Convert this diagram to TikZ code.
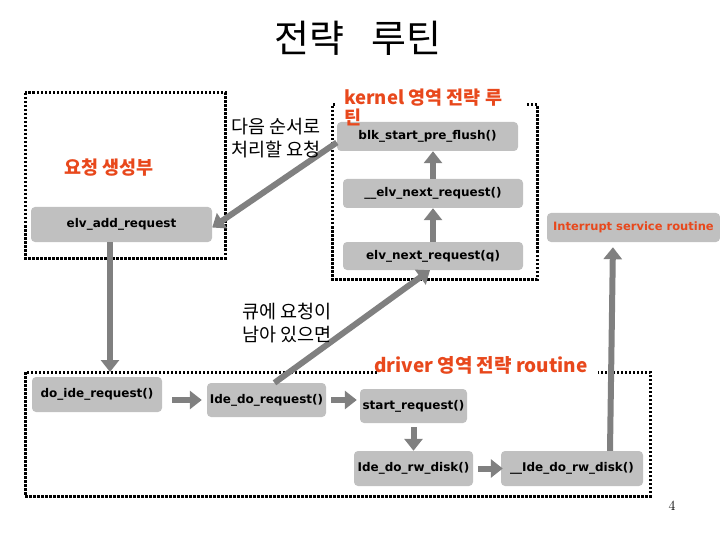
\documentclass[tikz,border=0pt]{standalone}
\usepackage{fontspec}
\newfontfamily\kr{Noto Sans CJK KR}
\newfontfamily\dv{DejaVu Sans}
\usetikzlibrary{arrows.meta}
\definecolor{boxgray}{RGB}{192,192,192}
\definecolor{arrgray}{RGB}{128,128,128}
\definecolor{lblred}{RGB}{232,72,28}
\tikzset{
  fbox/.style={fill=boxgray, rounded corners=4pt, inner sep=0pt, text=black,
    font=\dv\bfseries\fontsize{12}{14}\selectfont},
  garrow/.style={draw=arrgray, line width=6pt, -{Triangle[length=12pt,width=18pt]}},
  dotbox/.style={line width=3pt, dash pattern=on 2.5pt off 1.5pt},
  redlbl/.style={text=lblred, inner sep=0pt, font=\kr\bfseries\fontsize{18.5}{20}\selectfont},
  krlbl/.style={inner sep=0pt, align=left, font=\kr\fontsize{18.5}{23}\selectfont},
}
\begin{document}
\begin{tikzpicture}[x=1pt,y=-1pt]
\useasboundingbox (0,0) rectangle (720,540);
% title
\node[font=\kr\fontsize{38}{42}\selectfont] (title) at (358,38) {전략\hspace{0.7em}루틴};
% dotted group boxes
\draw[dotbox] (25,93) rectangle (225,258);
\draw[dotbox] (335,105) -- (332,105) -- (332,279) -- (537,279) -- (537,105) -- (525,105);
\draw[dotbox] (377,372) -- (25,372) -- (25,496) -- (650,496) -- (650,372) -- (598,372);
\coordinate (drvtop) at (110,372);
% function boxes
\node[fbox, minimum width=181pt, minimum height=35pt] (add) at (121.5,224.5) {elv\_add\_request};
\node[fbox, minimum width=181pt, minimum height=29pt] (blk) at (427.5,136.5) {blk\_start\_pre\_flush()};
\node[fbox, minimum width=180pt, minimum height=29pt] (enext) at (433,193.5) {\_\_elv\_next\_request()};
\node[fbox, minimum width=180pt, minimum height=28pt] (nextq) at (433,256) {elv\_next\_request(q)};
\node[fbox, minimum width=173pt, minimum height=29pt, text=lblred,
  font=\dv\bfseries\fontsize{11.5}{14}\selectfont] (isr) at (633.5,227.5) {Interrupt service routine};
\node[fbox, minimum width=130pt, minimum height=35pt] (doide) at (97,394.5) {do\_ide\_request()};
\node[fbox, minimum width=119pt, minimum height=34pt] (idereq) at (266.5,400) {Ide\_do\_request()};
\node[fbox, minimum width=107pt, minimum height=34pt] (start) at (413.5,406) {start\_request()};
\node[fbox, minimum width=119pt, minimum height=35pt] (rw) at (413.5,468.5) {Ide\_do\_rw\_disk()};
\node[fbox, minimum width=142pt, minimum height=35pt] (urw) at (572,468.5) {\_\_Ide\_do\_rw\_disk()};
% arrows
\draw[garrow] ([yshift=-6pt]blk.west) -- ([yshift=-3pt]add.east);
\draw[garrow] ([xshift=-11.5pt]add.south) -- ([xshift=-11.5pt]add.south |- drvtop);
\draw[garrow] (nextq.north) -- (enext.south);
\draw[garrow] (enext.north) -- (enext.north |- blk.south);
\draw[garrow] ([xshift=8pt]idereq.north) -- ([xshift=-3pt]nextq.south);
\draw[garrow, shorten <=10pt, shorten >=5pt] (doide.east |- idereq.west) -- (idereq.west);
\draw[garrow, shorten <=5pt, shorten >=3pt] (idereq.east) -- (idereq.east -| start.west);
\draw[garrow, shorten <=4pt] (start.south) -- (rw.north);
\draw[garrow, shorten <=5pt, shorten >=-2pt] (rw.east) -- (urw.west);
\draw[garrow, shorten >=5pt] ([xshift=38pt]urw.north) -- ([xshift=-20.5pt]isr.south);
% labels
\node[redlbl] (genlbl) at (109,168) {요청 생성부};
\node[redlbl, align=left, anchor=north west, font=\kr\bfseries\fontsize{18.5}{20}\selectfont] (klbl) at (344,89) {kernel 영역 전략 루\\틴};
\node[redlbl, font=\kr\bfseries\fontsize{19}{20}\selectfont] (dlbl) at (481,365) {driver 영역 전략 routine};
\node[krlbl, anchor=west] (nextlbl) at (231,138) {다음 순서로\\처리할 요청};
\node[krlbl, anchor=west] (qlbl) at (242,323) {큐에 요청이\\남아 있으면};
\node[font=\fontsize{14}{16}\selectfont, inner sep=0pt] (pg) at (672,506) {4};
\end{tikzpicture}
\end{document}
